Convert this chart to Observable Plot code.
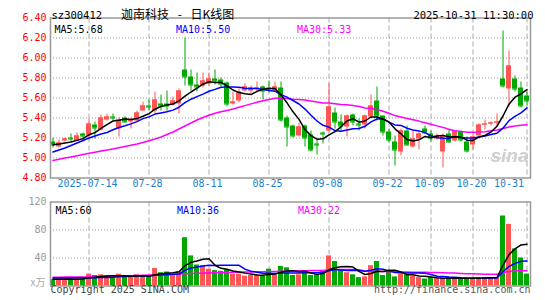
<!DOCTYPE html>
<html><head><meta charset="utf-8">
<script src="https://cdn.jsdelivr.net/npm/d3@7"></script>
<script src="https://cdn.jsdelivr.net/npm/@observablehq/plot@0.6"></script>
<style>
body{margin:0;background:#fff;}
#wrap{position:relative;width:545px;height:300px;overflow:hidden;}
#wrap svg{position:absolute;left:0;overflow:visible;}
</style></head><body><div id="wrap"></div>
<script>
const dates = ["2025-07-04","2025-07-07","2025-07-08","2025-07-09","2025-07-10","2025-07-11","2025-07-14","2025-07-15","2025-07-16","2025-07-17","2025-07-18","2025-07-21","2025-07-22","2025-07-23","2025-07-24","2025-07-25","2025-07-28","2025-07-29","2025-07-30","2025-07-31",
"2025-08-01","2025-08-04","2025-08-05","2025-08-06","2025-08-07","2025-08-08","2025-08-11","2025-08-12","2025-08-13","2025-08-14","2025-08-15","2025-08-18","2025-08-19","2025-08-20","2025-08-21","2025-08-22","2025-08-25","2025-08-26","2025-08-27","2025-08-28","2025-08-29",
"2025-09-01","2025-09-02","2025-09-03","2025-09-04","2025-09-05","2025-09-08","2025-09-09","2025-09-10","2025-09-11","2025-09-12","2025-09-15","2025-09-16","2025-09-17","2025-09-18","2025-09-19","2025-09-22","2025-09-23","2025-09-24","2025-09-25","2025-09-26","2025-09-29","2025-09-30",
"2025-10-09","2025-10-10","2025-10-13","2025-10-14","2025-10-15","2025-10-16","2025-10-17","2025-10-20","2025-10-21","2025-10-22","2025-10-23","2025-10-24","2025-10-27","2025-10-28","2025-10-29","2025-10-30","2025-10-31"];
const open = [5.16,5.11,5.17,5.20,5.17,5.24,5.22,5.33,5.28,5.38, 5.41,5.29,5.40,5.36,5.37,5.47,5.52,5.47,5.54,5.54, 5.53,5.54,5.88,5.81,5.73,5.72,5.74,5.79,5.78,5.75, 5.54,5.57,5.67,5.67,5.69,5.71,5.70,5.67,5.70,5.40, 5.32,5.22,5.32,5.23,5.14,5.25,5.27,5.45,5.36,5.31, 5.43,5.34,5.33,5.41,5.57,5.42,5.26,5.16,5.06,5.27, 5.11,5.19,5.29,5.24,5.19,5.06,5.24,5.17,5.26,5.16, 5.13,5.22,5.33,5.34,5.35,5.79,5.69,5.79,5.70,5.62];
const high = [5.20,5.18,5.20,5.24,5.25,5.25,5.39,5.36,5.43,5.44, 5.44,5.40,5.41,5.40,5.47,5.56,5.58,5.66,5.63,5.67, 5.61,5.69,6.20,5.88,5.85,5.85,5.85,5.88,5.80,5.76, 5.66,5.69,5.74,5.72,5.76,5.72,5.77,5.76,5.76,5.42, 5.33,5.35,5.33,5.27,5.18,5.26,5.74,5.50,5.43,5.43, 5.44,5.39,5.43,5.63,5.71,5.42,5.29,5.22,5.29,5.32, 5.27,5.26,5.32,5.27,5.24,5.24,5.28,5.27,5.27,5.21, 5.23,5.34,5.38,5.36,5.44,6.27,6.07,5.82,5.76,5.66];
const low = [5.10,5.10,5.16,5.16,5.17,5.16,5.19,5.19,5.27,5.37, 5.37,5.21,5.35,5.29,5.36,5.47,5.47,5.44,5.47,5.47, 5.52,5.44,5.72,5.67,5.66,5.70,5.72,5.73,5.71,5.51, 5.53,5.55,5.66,5.64,5.65,5.58,5.65,5.66,5.36,5.11, 5.20,5.21,5.11,5.06,5.03,5.14,5.26,5.29,5.27,5.21, 5.32,5.27,5.29,5.40,5.37,5.22,5.15,4.92,5.02,5.12, 5.10,5.08,5.24,5.16,5.18,4.90,5.15,5.16,5.16,5.05, 5.08,5.21,5.28,5.32,5.31,5.70,5.51,5.66,5.50,5.52];
const close = [5.13,5.15,5.19,5.19,5.22,5.22,5.34,5.30,5.40,5.41, 5.40,5.38,5.36,5.38,5.45,5.52,5.51,5.58,5.52,5.52, 5.57,5.67,5.81,5.73,5.71,5.77,5.79,5.77,5.74,5.54, 5.56,5.66,5.71,5.70,5.70,5.67,5.69,5.71,5.38,5.31, 5.22,5.31,5.20,5.08,5.13,5.24,5.51,5.36,5.32,5.42, 5.36,5.33,5.42,5.52,5.42,5.26,5.18,5.08,5.27,5.13, 5.19,5.24,5.25,5.20,5.22,5.22,5.16,5.26,5.18,5.07, 5.21,5.33,5.34,5.35,5.36,5.72,5.92,5.69,5.52,5.57];
const ma5 = [5.133,5.14,5.15,5.16,5.176,5.194,5.232,5.254,5.296,5.334, 5.37,5.378,5.39,5.386,5.394,5.418,5.444,5.488,5.516,5.53, 5.54,5.572,5.618,5.66,5.698,5.738,5.762,5.754,5.756,5.722, 5.68,5.654,5.642,5.634,5.666,5.688,5.694,5.694,5.63,5.552, 5.462,5.386,5.284,5.224,5.188,5.192,5.232,5.264,5.312,5.37, 5.394,5.358,5.37,5.41,5.41,5.39,5.36,5.292,5.242,5.184, 5.17,5.182,5.216,5.202,5.22,5.226,5.21,5.212,5.208,5.178, 5.176,5.21,5.226,5.26,5.318,5.42,5.538,5.608,5.642,5.684];
const ma10 = [5.06,5.08,5.10,5.125,5.15,5.175,5.20,5.22,5.24,5.255, 5.282,5.305,5.322,5.341,5.364,5.394,5.411,5.439,5.451,5.462, 5.479,5.508,5.553,5.588,5.614,5.639,5.667,5.686,5.708,5.71, 5.709,5.708,5.698,5.695,5.694,5.684,5.674,5.668,5.632,5.609, 5.575,5.54,5.489,5.427,5.37,5.327,5.309,5.274,5.268,5.279, 5.293,5.295,5.317,5.361,5.39,5.392,5.359,5.331,5.326,5.297, 5.28,5.271,5.254,5.222,5.202,5.198,5.196,5.214,5.205,5.199, 5.201,5.21,5.219,5.234,5.248,5.298,5.374,5.417,5.451,5.501];
const ma30 = [4.975,4.987,4.999,5.011,5.023,5.035,5.047,5.058,5.069,5.08, 5.091,5.102,5.114,5.127,5.14,5.155,5.172,5.19,5.21,5.235, 5.26,5.29,5.32,5.35,5.38,5.405,5.428,5.447,5.463,5.476, 5.49,5.507,5.524,5.541,5.557,5.572,5.584,5.598,5.597,5.594, 5.588,5.585,5.58,5.57,5.559,5.55,5.55,5.543,5.536,5.533, 5.526,5.514,5.501,5.494,5.485,5.468,5.447,5.424,5.409,5.395, 5.383,5.369,5.353,5.337,5.321,5.306,5.288,5.273,5.266,5.258, 5.258,5.259,5.263,5.272,5.28,5.296,5.31,5.321,5.327,5.332];
const volume = [9,9,11,10,10,10,17,15,16,14, 12,17,14,12,16,14,13,25,19,20, 17,20,69,43,30,29,24,22,21,23, 17,17,14,15,16,14,24,16,28,26, 15,16,21,15,16,21,43,35,22,19, 16,12,13,29,35,15,20,13,17,16, 14,12,10,12,11,11,12,11,10,11, 12,12,12,12,12,100,88,53,40,17];
const volMa5 = [9.5,9.6,9.7,9.8,9.8,10,11.6,12.4,13.6,14.4, 14.8,14.8,14.6,13.8,14.2,14.6,13.8,16,17.4,18.2, 18.8,20.2,29,33.8,35.8,38.2,39,29.6,25.2,23.8, 21.4,20,18.4,17.2,15.8,15.2,16.6,17,19.6,21.6, 21.8,20.2,21.2,18.6,16.6,17.8,23.2,26,27.4,28, 27,20.8,16.4,17.8,21,20.8,22.4,22.4,20,16.2, 16,14.4,13.8,12.8,11.8,11.2,11.2,11.4,11,11, 11.2,11.2,11.4,11.8,12,29.6,44.8,53,58.6,59.6];
const volMa10 = [11.5,11.5,11.6,11.6,11.7,11.7,11.8,11.9,12,12.1, 12.4,13.2,13.5,13.7,14.3,14.7,14.3,15.3,15.6,16.2, 16.7,17,22.5,25.6,27,28.5,29.6,29.3,29.5,29.8, 29.8,29.5,24,21.2,19.8,18.3,18.3,17.7,18.4,18.7, 18.5,18.4,19.1,19.1,19.1,19.8,21.7,23.6,23,22.3, 22.4,22,21.2,22.6,24.5,23.9,21.6,19.4,18.9,18.6, 18.4,18.4,18.1,16.4,14,13.6,12.8,12.6,11.9,11.4, 11.2,11.2,11.4,11.4,11.5,20.4,28,32.2,35.2,35.8];
const volMa30 = [12.5,12.6,12.7,12.8,12.9,13,13.2,13.4,13.6,13.8, 14,14.25,14.5,14.75,15,15.3,15.6,15.9,16.2,16.5, 16.8,17.1,17.5,17.8,18.1,18.4,18.7,18.95,19.2,19.37, 19.63,19.9,20,20.17,20.37,20.5,20.73,20.77,21.17,21.57, 21.67,21.63,21.87,21.97,21.97,22.2,23.2,23.53,23.63,23.6, 23.57,23.3,21.43,20.97,21.13,20.67,20.53,20.23,20.1,19.87, 19.77,19.6,19.47,19.37,19.2,19.1,18.7,18.53,17.93,17.43, 17.33,17.2,16.9,16.8,16.67,19.3,20.8,21.4,22,21.93];
const priceTicks = [4.8,5.0,5.2,5.4,5.6,5.8,6.0,6.2,6.4];
const volTicks = [40,80,120];
const tickDates = ["2025-07-14","2025-07-28","2025-08-11","2025-08-25","2025-09-08","2025-09-22","2025-10-09","2025-10-20","2025-10-31"];
const tickLabels = ["2025-07-14","07-28","08-11","08-25","09-08","09-22","10-09","10-20","10-31"];
const header = {code:"sz300412", title:"迦南科技\u2002\u00a0-\u2002\u00a0日K线图", time:"2025-10-31 11:30:00"};
const priceMaLabels = ["MA5:5.68","MA10:5.50","MA30:5.33"];
const volMaLabels = ["MA5:60","MA10:36","MA30:22"];

const RED = "#ff5555", GREEN = "#00a800", XBLUE = "#1a7fd0";
const rows = dates.map((d,i)=>({i, d, o:open[i], h:high[i], l:low[i], c:close[i], v:volume[i], col: close[i] >= open[i] ? RED : GREEN}));
const tickIdx = tickDates.map(t=>dates.indexOf(t));
const bw = 2.5/6;
const xDom = [-2.5/6, 79 + 3.5/6];
const font = "DejaVu Sans Mono";
const maColors = ["#000000","#0000ff","#ff00ff"];
const maDx = [4, 125.5, 246.5];

const main = Plot.plot({
  width: 545, height: 195, marginLeft: 50, marginRight: 15, marginTop: 17.5, marginBottom: 17.5,
  x: {type:"linear", domain: xDom, axis: null},
  y: {domain: [4.8, 6.4], axis: null},
  color: {type: "identity"},
  style: {fontFamily: font, fontSize: "10px", background: "transparent", overflow: "visible"},
  marks: [
    Plot.ruleY(priceTicks.slice(1,-1), {y: d=>d, stroke: "#999", strokeDasharray: "1,2"}),
    Plot.ruleX(tickIdx, {x: d=>d, stroke: "#aaa", strokeDasharray: "5,3"}),
    Plot.ruleX(rows, {x: "i", y1: "l", y2: "h", stroke: "col"}),
    Plot.rect(rows, {x1: d=>d.i-bw, x2: d=>d.i+bw, y1: "o", y2: "c", fill: "col"}),
    Plot.ruleY(rows, {x1: d=>d.i-bw, x2: d=>d.i+bw, y: "c", stroke: "col"}),
    Plot.line(rows, {x: "i", y: d=>ma30[d.i], stroke: maColors[2]}),
    Plot.line(rows, {x: "i", y: d=>ma10[d.i], stroke: maColors[1]}),
    Plot.line(rows, {x: "i", y: d=>ma5[d.i], stroke: maColors[0]}),
    Plot.text(["sina"], {text: d=>d, frameAnchor: "bottom-right", dx: -2, dy: -16, textAnchor: "end", fontFamily: "Liberation Sans", fontSize: 19, fontStyle: "italic", fontWeight: "bold", fill: "#d0d0d0"}),
    Plot.frame({stroke: "#999", strokeWidth: 1.5}),
    Plot.text(priceTicks, {y: d=>d, text: d=>d.toFixed(2), frameAnchor: "left", dx: -4, textAnchor: "end", fill: "#ff0000"}),
    Plot.text(tickIdx.slice(0,-1), {x: d=>d, text: (d,j)=>tickLabels[j], frameAnchor: "bottom", dx: -1.5, dy: 9, fill: XBLUE}),
    Plot.text(tickIdx.slice(-1), {x: d=>d, text: d=>tickLabels[tickLabels.length-1], frameAnchor: "bottom", dx: -3, dy: 9, textAnchor: "end", fill: XBLUE}),
    ...priceMaLabels.map((t,k)=>Plot.text([t], {text: d=>d, frameAnchor: "top-left", dx: maDx[k], dy: 7.5, textAnchor: "start", fill: maColors[k]})),
    Plot.text([header.code], {text: d=>d, frameAnchor: "top-left", dx: 1, dy: -6, textAnchor: "start", fill: "#000", fontSize: 10.5}),
    Plot.text([header.title], {text: d=>d, frameAnchor: "top-left", dx: 70.5, dy: -8, textAnchor: "start", fill: "#000", fontSize: 12, fontFamily: "Noto Sans CJK SC"}),
    Plot.text([header.time], {text: d=>d, frameAnchor: "top-right", dx: 3, dy: -6, textAnchor: "end", fill: "#000", fontSize: 10.5})
  ]
});
main.style.top = "0px";

const volPlot = Plot.plot({
  width: 545, height: 105, marginLeft: 50, marginRight: 15, marginTop: 6.5, marginBottom: 14.5,
  x: {type:"linear", domain: xDom, axis: null},
  y: {domain: [0, 120], axis: null},
  color: {type: "identity"},
  style: {fontFamily: font, fontSize: "10px", background: "transparent", overflow: "visible"},
  marks: [
    Plot.ruleY([40,80], {y: d=>d, stroke: "#999", strokeDasharray: "1,2"}),
    Plot.ruleX(tickIdx, {x: d=>d, stroke: "#aaa", strokeDasharray: "5,3"}),
    Plot.rect(rows, {x1: d=>d.i-bw, x2: d=>d.i+bw, y1: 0, y2: "v", fill: "col"}),
    Plot.line(rows, {x: "i", y: d=>volMa30[d.i], stroke: maColors[2]}),
    Plot.line(rows, {x: "i", y: d=>volMa10[d.i], stroke: maColors[1]}),
    Plot.line(rows, {x: "i", y: d=>volMa5[d.i], stroke: maColors[0]}),
    Plot.frame({stroke: "#999", strokeWidth: 1.5}),
    Plot.text(volTicks, {y: d=>d, text: d=>String(d), frameAnchor: "left", dx: -4, textAnchor: "end", fill: "#999"}),
    Plot.text(["x万"], {text: d=>d, frameAnchor: "bottom-left", dx: -5, dy: 0, textAnchor: "end", fill: "#aaa", fontFamily: "Noto Sans CJK SC"}),
    ...volMaLabels.map((t,k)=>Plot.text([t], {text: d=>d, frameAnchor: "top-left", dx: maDx[k]+1, dy: 5, textAnchor: "start", fill: maColors[k]})),
    Plot.text(["Copyright 2025 SINA.COM"], {text: d=>d, frameAnchor: "bottom-left", dx: 0, dy: 6.5, textAnchor: "start", fill: "#444"}),
    Plot.text(["http://finance.sina.com.cn"], {text: d=>d, frameAnchor: "bottom-right", dx: 0, dy: 6.5, textAnchor: "end", fill: "#555"})
  ]
});
volPlot.style.top = "195px";

const wrap = document.getElementById("wrap");
wrap.appendChild(main);
wrap.appendChild(volPlot);
</script></body></html>
